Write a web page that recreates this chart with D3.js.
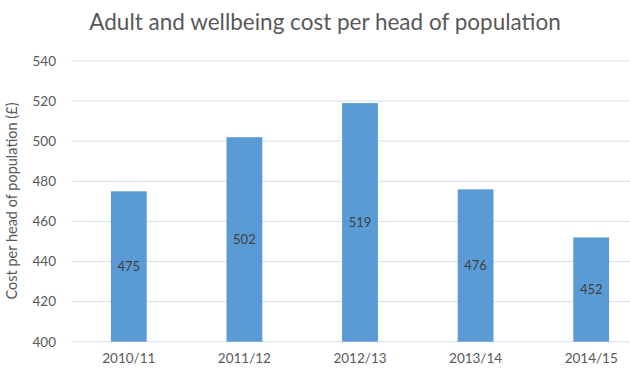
<!DOCTYPE html>
<html>
<head>
<meta charset="utf-8">
<script src="https://cdn.jsdelivr.net/npm/d3@7"></script>
<style>
  html, body { margin: 0; padding: 0; background: #fff; }
  svg { display: block; }
</style>
</head>
<body>
<svg id="chart" width="630" height="372"></svg>
<script>
// Chart data
const title = "Adult and wellbeing cost per head of population";
const yAxisTitle = "Cost per head of population (£)";
const years = ["2010/11", "2011/12", "2012/13", "2013/14", "2014/15"];
const costPerHead = [475, 502, 519, 476, 452];
const yTicks = [400, 420, 440, 460, 480, 500, 520, 540];

const svg = d3.select("#chart");
const font = "Lato, 'Open Sans', sans-serif";

// Plot area (the category axis runs past the right edge, as in the exported chart)
const plot = { left: 71, right: 649, top: 61, bottom: 341.7 };

const x = d3.scaleBand()
  .domain(years)
  .range([plot.left, plot.right])
  .paddingInner(0.69)
  .paddingOuter(0.345);

const y = d3.scaleLinear()
  .domain([400, 540])
  .range([plot.bottom, plot.top]);

// Gridlines
svg.append("g")
  .selectAll("line")
  .data(yTicks)
  .join("line")
  .attr("x1", plot.left)
  .attr("x2", 630)
  .attr("y1", d => y(d))
  .attr("y2", d => y(d))
  .attr("stroke", "#d3e2ef")
  .attr("stroke-width", 1);

// Y axis tick labels
const yAxis = d3.axisLeft(y).tickValues(yTicks).tickSize(0).tickPadding(15);
svg.append("g")
  .attr("transform", `translate(${plot.left},0)`)
  .call(yAxis)
  .call(g => g.select(".domain").remove())
  .call(g => g.selectAll("text")
    .attr("font-family", font)
    .attr("font-size", 13.5)
    .attr("fill", "#595959"));

// Bars
svg.append("g")
  .selectAll("rect")
  .data(years.map((yr, i) => ({ yr, v: costPerHead[i] })))
  .join("rect")
  .attr("x", d => x(d.yr))
  .attr("width", x.bandwidth())
  .attr("y", d => y(d.v))
  .attr("height", d => y(400) - y(d.v))
  .attr("fill", "#5b9bd5");

// Value labels, centred in each bar
svg.append("g")
  .selectAll("text")
  .data(years.map((yr, i) => ({ yr, v: costPerHead[i] })))
  .join("text")
  .attr("x", d => x(d.yr) + x.bandwidth() / 2)
  .attr("y", d => (y(d.v) + y(400)) / 2)
  .attr("dy", "0.35em")
  .attr("text-anchor", "middle")
  .attr("font-family", font)
  .attr("font-size", 13)
  .attr("fill", "#404040")
  .text(d => d.v);

// X axis labels
const xAxis = d3.axisBottom(x).tickSize(0).tickPadding(12);
svg.append("g")
  .attr("transform", `translate(0,${plot.bottom})`)
  .call(xAxis)
  .call(g => g.select(".domain").remove())
  .call(g => g.selectAll("text")
    .attr("font-family", font)
    .attr("font-size", 13.5)
    .attr("fill", "#595959"));

// Y axis title
svg.append("text")
  .attr("transform", "translate(17,201) rotate(-90)")
  .attr("text-anchor", "middle")
  .attr("font-family", font)
  .attr("font-size", 14.5)
  .attr("fill", "#595959")
  .text(yAxisTitle);

// Chart title
svg.append("text")
  .attr("x", 325)
  .attr("y", 30)
  .attr("text-anchor", "middle")
  .attr("font-family", font)
  .attr("font-size", 22.5)
  .attr("fill", "#595959")
  .text(title);
</script>
</body>
</html>
